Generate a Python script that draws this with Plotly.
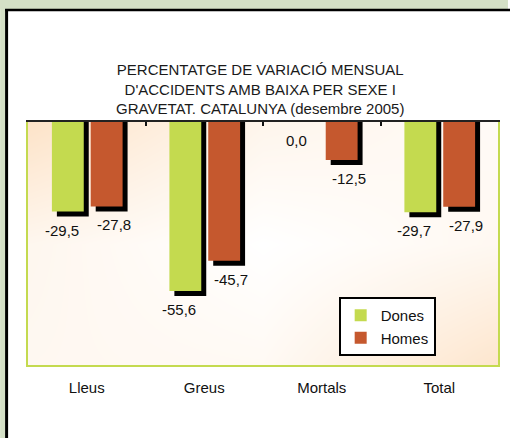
import plotly.graph_objects as go

# dades
categories = ["Lleus", "Greus", "Mortals", "Total"]
dones = [-29.5, -55.6, 0.0, -29.7]
homes = [-27.8, -45.7, -12.5, -27.9]
series_names = ["Dones", "Homes"]

title_text = ("PERCENTATGE DE VARIACIÓ MENSUAL<br>"
              "D'ACCIDENTS AMB BAIXA PER SEXE I<br>"
              "GRAVETAT. CATALUNYA (desembre 2005)")

GREEN = "#c4da4f"
ORANGE = "#c5582e"
BG_GREEN = "#d4e0c6"
FONT = "Liberation Sans"

# mides en pixels de l'area de dibuix
W, H = 510, 438
L, R, T, B = 28, 10, 122, 73
plot_w = W - L - R
plot_h = H - T - B
y_min = -80
cat_px = plot_w / len(categories)

bar_w = 32 / cat_px
offsets = [-35 / cat_px, 4 / cat_px]
sh_dx = 5 / cat_px
sh_dy = 5 * (-y_min) / plot_h


def px_x(p):
    return (p - L) / plot_w


def px_y(p):
    return (H - B - p) / plot_h


def fmt(v):
    return f"{v:.1f}".replace(".", ",")


fig = go.Figure()

# fons en degradat (decoratiu)
fig.add_trace(go.Heatmap(
    x=[-0.5, 1.5, 3.5], y=[0, 0.5, 1],
    z=[[0.25, 0.2, 0.9], [0.3, 0.0, 0.25], [1.0, 0.35, 0.15]],
    colorscale=[[0, "#ffffff"], [1, "#fde3c8"]],
    zsmooth="best", showscale=False, hoverinfo="skip",
    xaxis="x", yaxis="y",
))

# ombres
for vals, off in zip([dones, homes], offsets):
    fig.add_trace(go.Bar(
        x=categories, y=[v - sh_dy if v != 0 else None for v in vals],
        width=bar_w, offset=off + sh_dx, marker_color="black",
        marker_line_width=0, showlegend=False, hoverinfo="skip",
        xaxis="x2", yaxis="y2",
    ))

# barres
for name, vals, off, col in zip(series_names, [dones, homes], offsets, [GREEN, ORANGE]):
    fig.add_trace(go.Bar(
        x=categories, y=vals, name=name, width=bar_w, offset=off,
        marker_color=col, marker_line_width=0,
        xaxis="x2", yaxis="y2",
    ))

# etiquetes de valor
annotations = []
for vals, xs in zip([dones, homes], [-25, 27]):
    for c, v in zip(categories, vals):
        annotations.append(dict(
            x=c, y=v, xref="x2", yref="y2", text=fmt(v),
            showarrow=False, yanchor="top", xshift=xs, yshift=-8,
            font=dict(size=15, color="#111", family=FONT),
        ))

annotations.append(dict(
    x=px_x(261), y=px_y(89), xref="paper", yref="paper",
    text=title_text, showarrow=False, yanchor="middle", xanchor="center",
    font=dict(size=15, color="#1a1a1a", family=FONT),
))

# marc exterior: franja verda a l'esquerra i a dalt, i vora negra
frame = [
    dict(type="rect", x0=px_x(0), x1=px_x(5), y0=px_y(H), y1=px_y(0),
         fillcolor=BG_GREEN, line_width=0, layer="below"),
    dict(type="rect", x0=px_x(0), x1=px_x(W), y0=px_y(9), y1=px_y(0),
         fillcolor=BG_GREEN, line_width=0, layer="below"),
    dict(type="line", x0=px_x(6.5), x1=px_x(6.5), y0=px_y(9), y1=px_y(H),
         line=dict(color="black", width=3), layer="below"),
    # franja blanca a la dreta del grafic
    dict(type="rect", x0=px_x(502), x1=px_x(W + 10), y0=px_y(H + 10), y1=px_y(11.3),
         fillcolor="white", line_width=0, layer="above"),
    dict(type="line", x0=px_x(5), x1=px_x(W + 10), y0=px_y(10), y1=px_y(10),
         line=dict(color="black", width=2.5), layer="above"),
]
for s in frame:
    s.update(xref="paper", yref="paper")

fig.update_layout(
    width=W, height=H,
    margin=dict(l=L, r=R, t=T, b=B),
    paper_bgcolor="white",
    plot_bgcolor="white",
    barmode="overlay",
    font=dict(family=FONT, size=15, color="#111"),
    annotations=annotations,
    shapes=frame,
    xaxis=dict(
        range=[-0.5, 3.5], side="top", showgrid=False, zeroline=False,
        tickvals=[-0.5, 0.5, 1.5, 2.5, 3.5], showticklabels=False,
        ticks="inside", ticklen=4, tickwidth=2, tickcolor="#111",
        showline=True, linecolor="#222", linewidth=2, fixedrange=True,
    ),
    yaxis=dict(range=[0, 1], visible=False, fixedrange=True),
    xaxis2=dict(
        overlaying="x", anchor="y2", side="bottom", type="category",
        categoryorder="array", categoryarray=categories,
        range=[-0.5, 3.5], showgrid=False, zeroline=False,
        showline=True, linecolor=GREEN, linewidth=2,
        ticks="", ticklabelstandoff=8,
        tickfont=dict(size=15, color="#111", family=FONT),
    ),
    yaxis2=dict(
        overlaying="y", range=[y_min, 0], showgrid=False, zeroline=False,
        showticklabels=False, showline=True, linecolor=GREEN, linewidth=2,
        mirror=True, ticks="",
    ),
    legend=dict(
        x=px_x(340), y=px_y(297),
        xanchor="left", yanchor="top",
        bgcolor="white", bordercolor="black", borderwidth=2,
        font=dict(size=15, color="#111", family=FONT),
        traceorder="normal", itemwidth=30, tracegroupgap=0,
    ),
    showlegend=True,
)

fig.write_html(
    "out.html",
    config={"displayModeBar": False},
    post_script="document.body.style.margin='0px';document.body.style.overflow='hidden';",
)
